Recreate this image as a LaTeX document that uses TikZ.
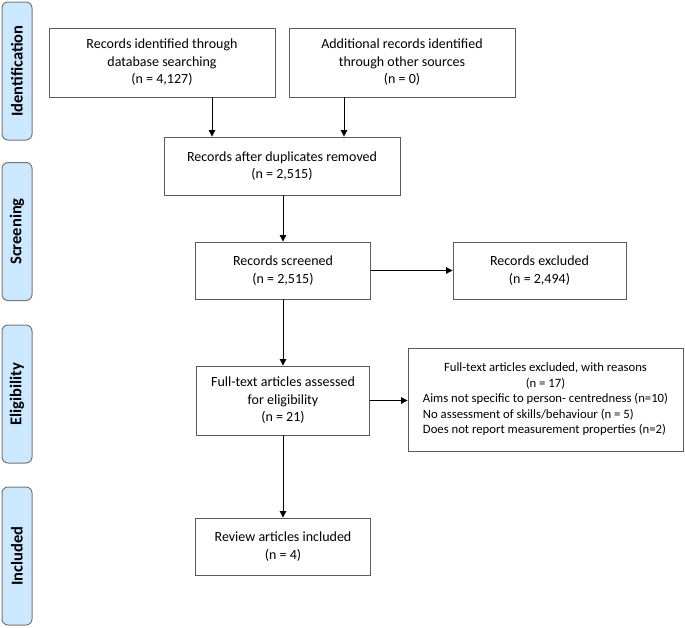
\documentclass[tikz,border=0pt]{standalone}
\usepackage{fontspec}
\setmainfont{Carlito}
\usetikzlibrary{arrows.meta}

\begin{document}
\begin{tikzpicture}[x=1pt,y=1pt]
		\tikzstyle{every node}=[font=\fontsize{14}{17.5}\selectfont]
		\tikzstyle{caja} = [draw={rgb,255:red,90; green,90; blue,90}, align=center, line width=0.9pt, fill=white, inner sep=2pt]
		\tikzstyle{fase} = [draw={rgb,255:red,120; green,120; blue,120}, rounded corners=6pt, line width=1pt, fill={rgb,255:red,204; green,232; blue,255}, minimum width=30pt, minimum height=138pt]
		\tikzstyle{etiqueta} = [rotate=90, font=\fontsize{16.5}{18}\selectfont\bfseries]
		\tikzstyle{flecha} = [-{Triangle[width=6.5pt,length=6.5pt]}, line width=1pt]

		\useasboundingbox (0,0) rectangle (685,-627);

		% fases a la izquierda
		\draw (17,-71) node[fase](iden){} node[etiqueta]{Identification};
		\draw (17,-231.5) node[fase](scre){} node[etiqueta]{Screening};
		\draw (17,-394) node[fase](elig){} node[etiqueta]{Eligibility};
		\draw (17,-556) node[fase](incl){} node[etiqueta]{Included};

		% cajas
		\draw (162,-62.5) node[caja, minimum width=226pt, minimum height=69pt](db){Records identified through\\database searching\\(n = 4,127)};
		\draw (402,-62.5) node[caja, minimum width=226pt, minimum height=69pt](other){Additional records identified\\through other sources\\(n = 0)};
		\draw (282,-166) node[caja, minimum width=236pt, minimum height=58pt](dup){Records after duplicates removed\\(n = 2,515)};
		\draw (283,-270.5) node[caja, minimum width=175pt, minimum height=57pt](scr){Records screened\\(n = 2,515)};
		\draw (539.5,-270.5) node[caja, minimum width=173pt, minimum height=57pt](exc){Records excluded\\(n = 2,494)};
		\draw (283,-400.5) node[caja, minimum width=173pt, minimum height=69pt](full){Full-text articles assessed\\for eligibility\\(n = 21)};
		\draw (545.5,-399.5) node[caja, minimum width=275pt, minimum height=103pt, font=\fontsize{12.7}{15.5}\selectfont](fexc){%
		   \begin{tabular}{@{}l@{}}
		   \multicolumn{1}{@{}c@{}}{Full-text articles excluded, with reasons}\\
		   \multicolumn{1}{@{}c@{}}{(n = 17)}\\
		   Aims not specific to person- centredness (n=10)\\
		   No assessment of skills/behaviour (n = 5)\\
		   Does not report measurement properties (n=2)
		   \end{tabular}};
		\draw (283,-546.5) node[caja, minimum width=175pt, minimum height=57pt](inc){Review articles included\\(n = 4)};

		% flechas
		\draw [flecha] ([xshift=50pt]db.south) -- ([xshift=50pt]db.south |- dup.north);
		\draw [flecha] ([xshift=-58pt]other.south) -- ([xshift=-58pt]other.south |- dup.north);
		\draw [flecha] (dup.south -| scr) -- (scr.north);
		\draw [flecha] (scr.east) -- (exc.west);
		\draw [flecha] (scr.south) -- (full.north);
		\draw [flecha] (full.east) -- (full.east -| fexc.west);
		\draw [flecha] (full.south) -- (inc.north);
	\end{tikzpicture}
\end{document}
